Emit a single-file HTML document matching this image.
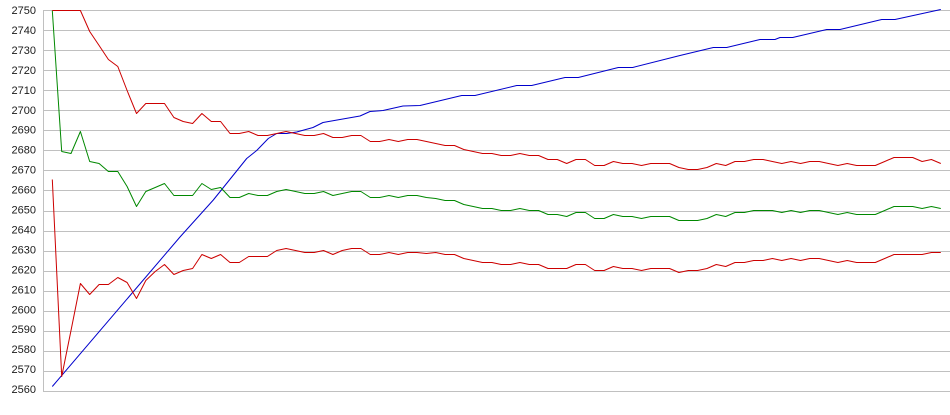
<!DOCTYPE html>
<html><head><meta charset="utf-8"><style>
html,body{margin:0;padding:0;background:#fff;}
svg{display:block;}
text{font-family:"Liberation Sans",Arial,sans-serif;font-size:11px;fill:#1a1a1a;}
</style></head><body>
<svg width="950" height="415" viewBox="0 0 950 415" xmlns="http://www.w3.org/2000/svg">
<rect width="950" height="415" fill="#fff"/>
<g stroke="#c0c0c0" stroke-width="1" shape-rendering="crispEdges">
<line x1="43" y1="10.5" x2="950" y2="10.5"/>
<line x1="43" y1="30.5" x2="950" y2="30.5"/>
<line x1="43" y1="50.5" x2="950" y2="50.5"/>
<line x1="43" y1="70.5" x2="950" y2="70.5"/>
<line x1="43" y1="90.5" x2="950" y2="90.5"/>
<line x1="43" y1="110.5" x2="950" y2="110.5"/>
<line x1="43" y1="130.5" x2="950" y2="130.5"/>
<line x1="43" y1="150.5" x2="950" y2="150.5"/>
<line x1="43" y1="170.5" x2="950" y2="170.5"/>
<line x1="43" y1="190.5" x2="950" y2="190.5"/>
<line x1="43" y1="211.5" x2="950" y2="211.5"/>
<line x1="43" y1="231.5" x2="950" y2="231.5"/>
<line x1="43" y1="251.5" x2="950" y2="251.5"/>
<line x1="43" y1="271.5" x2="950" y2="271.5"/>
<line x1="43" y1="291.5" x2="950" y2="291.5"/>
<line x1="43" y1="311.5" x2="950" y2="311.5"/>
<line x1="43" y1="331.5" x2="950" y2="331.5"/>
<line x1="43" y1="351.5" x2="950" y2="351.5"/>
<line x1="43" y1="371.5" x2="950" y2="371.5"/>
<line x1="43" y1="391.5" x2="950" y2="391.5"/>
<line x1="43.5" y1="10" x2="43.5" y2="392"/>
</g>
<g text-anchor="end">
<text x="36" y="14">2750</text>
<text x="36" y="33.95">2740</text>
<text x="36" y="53.9">2730</text>
<text x="36" y="73.85">2720</text>
<text x="36" y="93.8">2710</text>
<text x="36" y="113.75">2700</text>
<text x="36" y="133.7">2690</text>
<text x="36" y="153.65">2680</text>
<text x="36" y="173.6">2670</text>
<text x="36" y="193.55">2660</text>
<text x="36" y="213.5">2650</text>
<text x="36" y="233.45">2640</text>
<text x="36" y="253.4">2630</text>
<text x="36" y="273.35">2620</text>
<text x="36" y="293.3">2610</text>
<text x="36" y="313.25">2600</text>
<text x="36" y="333.2">2590</text>
<text x="36" y="353.15">2580</text>
<text x="36" y="373.1">2570</text>
<text x="36" y="393.05">2560</text>
</g>
<g fill="none" stroke-width="1" stroke-linejoin="round">
<polyline stroke="#0000cc" points="52.3,386.5 180,237 213.3,200 246.7,158.5 256.7,150.5 268.3,138.5 276.7,133.5 286.7,133.5 296.7,132 313,127.5 323,122.5 340,119.5 360,116 370,111.5 383,110.5 403,106 420,105.5 461.7,95.5 475,95.5 516.7,85.5 531.7,85.5 565,77.5 578.3,77.5 618.3,67.5 632.7,67.5 680,55.5 713.3,47.5 726.7,47.5 760,39.5 775,39.5 780,37.5 792.7,37.5 826.7,29.5 840,29.5 881.7,19.5 895,19.5 940.8,9.5"/>
<polyline stroke="#008800" points="52.3,10.5 61.7,151.5 71,153.5 80.4,131.5 89.7,161.5 99.1,163.5 108.4,171.5 117.8,171.5 127.1,186.5 136.5,206.5 145.8,191.5 155.2,187.5 164.5,183.5 173.9,195.5 183.2,195.5 192.6,195.5 201.9,183.5 211.3,189.5 220.6,187.5 230,197.5 239.3,197.5 248.7,193.5 258,195.5 267.4,195.5 276.7,191.5 286.1,189.5 295.5,191.5 304.8,193.5 314.2,193.5 323.5,191.5 332.9,195.5 342.2,193.5 351.6,191.5 360.9,191.5 370.3,197.5 379.6,197.5 389,195.5 398.3,197.5 407.7,195.5 417,195.5 426.4,197.5 435.7,198.5 445.1,200.5 454.5,200.5 463.8,204.5 473.2,206.5 482.5,208.5 491.9,208.5 501.2,210.5 510.6,210.5 519.9,208.5 529.3,210.5 538.6,210.5 548,214.5 557.3,214.5 566.7,216.5 576,212.5 585.4,212.5 594.7,218.5 604.1,218.5 613.4,214.5 622.8,216.5 632.1,216.5 641.5,218.5 650.8,216.5 660.2,216.5 669.6,216.5 678.9,220.5 688.3,220.5 697.6,220.5 707,218.5 716.3,214.5 725.7,216.5 735,212.5 744.4,212.5 753.7,210.5 763.1,210.5 772.4,210.5 781.8,212.5 791.1,210.5 800.5,212.5 809.8,210.5 819.2,210.5 828.5,212.5 837.9,214.5 847.2,212.5 856.6,214.5 866,214.5 875.3,214.5 884.7,210.5 894,206.5 903.4,206.5 912.7,206.5 922.1,208.5 931.4,206.5 940.8,208.5"/>
<polyline stroke="#cc0000" points="52.3,10.5 61.7,10.5 71,10.5 80.4,10.5 89.7,31.5 99.1,45.5 108.4,59.5 117.8,66.5 127.1,90.5 136.5,113.5 145.8,103.5 155.2,103.5 164.5,103.5 173.9,117.5 183.2,121.5 192.6,123.5 201.9,113.5 211.3,121.5 220.6,121.5 230,133.5 239.3,133.5 248.7,131.5 258,135.5 267.4,135.5 276.7,133.5 286.1,131.5 295.5,133.5 304.8,135.5 314.2,135.5 323.5,133.5 332.9,137.5 342.2,137.5 351.6,135.5 360.9,135.5 370.3,141.5 379.6,141.5 389,139.5 398.3,141.5 407.7,139.5 417,139.5 426.4,141.5 435.7,143.5 445.1,145.5 454.5,145.5 463.8,149.5 473.2,151.5 482.5,153.5 491.9,153.5 501.2,155.5 510.6,155.5 519.9,153.5 529.3,155.5 538.6,155.5 548,159.5 557.3,159.5 566.7,163.5 576,159.5 585.4,159.5 594.7,165.5 604.1,165.5 613.4,161.5 622.8,163.5 632.1,163.5 641.5,165.5 650.8,163.5 660.2,163.5 669.6,163.5 678.9,167.5 688.3,169.5 697.6,169.5 707,167.5 716.3,163.5 725.7,165.5 735,161.5 744.4,161.5 753.7,159.5 763.1,159.5 772.4,161.5 781.8,163.5 791.1,161.5 800.5,163.5 809.8,161.5 819.2,161.5 828.5,163.5 837.9,165.5 847.2,163.5 856.6,165.5 866,165.5 875.3,165.5 884.7,161.5 894,157.5 903.4,157.5 912.7,157.5 922.1,161.5 931.4,159.5 940.8,163.5"/>
<polyline stroke="#cc0000" points="52.3,179.5 61.7,376.5 71,330.5 80.4,283.5 89.7,294.5 99.1,284.5 108.4,284.5 117.8,277.5 127.1,282.5 136.5,298.5 145.8,280.5 155.2,271.5 164.5,264.5 173.9,274.5 183.2,270.5 192.6,268.5 201.9,254.5 211.3,258.5 220.6,254.5 230,262.5 239.3,262.5 248.7,256.5 258,256.5 267.4,256.5 276.7,250.5 286.1,248.5 295.5,250.5 304.8,252.5 314.2,252.5 323.5,250.5 332.9,254.5 342.2,250.5 351.6,248.5 360.9,248.5 370.3,254.5 379.6,254.5 389,252.5 398.3,254.5 407.7,252.5 417,252.5 426.4,253.5 435.7,252.5 445.1,254.5 454.5,254.5 463.8,258.5 473.2,260.5 482.5,262.5 491.9,262.5 501.2,264.5 510.6,264.5 519.9,262.5 529.3,264.5 538.6,264.5 548,268.5 557.3,268.5 566.7,268.5 576,264.5 585.4,264.5 594.7,270.5 604.1,270.5 613.4,266.5 622.8,268.5 632.1,268.5 641.5,270.5 650.8,268.5 660.2,268.5 669.6,268.5 678.9,272.5 688.3,270.5 697.6,270.5 707,268.5 716.3,264.5 725.7,266.5 735,262.5 744.4,262.5 753.7,260.5 763.1,260.5 772.4,258.5 781.8,260.5 791.1,258.5 800.5,260.5 809.8,258.5 819.2,258.5 828.5,260.5 837.9,262.5 847.2,260.5 856.6,262.5 866,262.5 875.3,262.5 884.7,258.5 894,254.5 903.4,254.5 912.7,254.5 922.1,254.5 931.4,252.5 940.8,252.5"/>
</g>
</svg>
</body></html>
